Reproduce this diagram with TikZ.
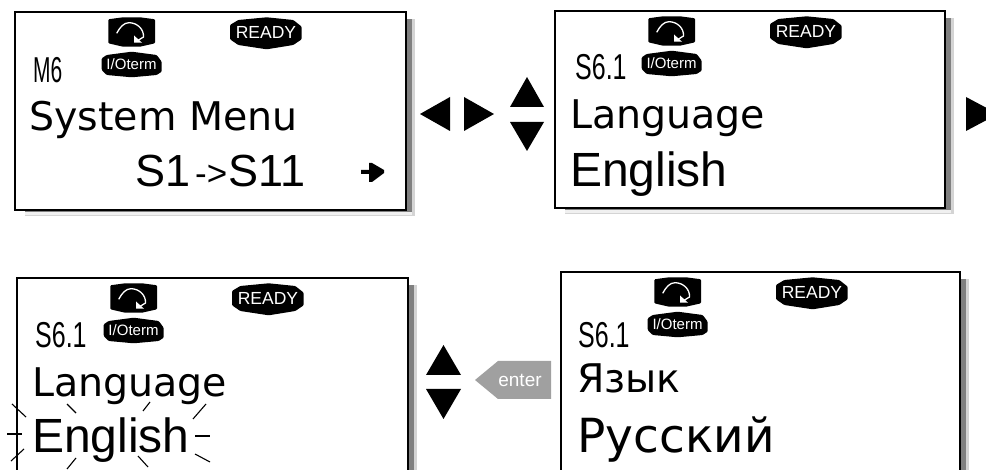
\documentclass[tikz,border=0pt]{standalone}
\usepackage{fontspec}
\setmainfont{Liberation Sans}
\newfontfamily\dejafont{DejaVu Sans}
\newcommand{\fs}[1]{\fontsize{#1}{#1}\selectfont}
\newcommand{\lcdpanel}[5]{
    \fill[lcdlight] (#2+10,#3+7) rectangle (#4+9,#5+6);
    \fill[lcdpale] (#2+10,#5+2) rectangle (#4+6,#5+5);
    \fill[lcddark] (#2+10,#3+7) rectangle (#4+6,#5+2);
    \draw[lcdframe] (#2,#3) rectangle (#4,#5);
    \coordinate (#1) at (#2,#3);
}
\definecolor{lcddark}{HTML}{808080}
\definecolor{lcdlight}{HTML}{D4D4D4}
\definecolor{lcdpale}{HTML}{F0F0F0}
\definecolor{entergray}{HTML}{A0A0A0}
\tikzset{
    lcdframe/.style={draw=black, fill=white, line width=1.3pt},
    bigdeja/.style={anchor=base west, inner sep=0pt, font=\dejafont\fs{39.5}},
    hugedeja/.style={anchor=base west, inner sep=0pt, font=\dejafont\fs{47}},
    bigarial/.style={anchor=base west, inner sep=0pt, font=\fs{48}},
    segtext/.style={anchor=base west, inner sep=0pt, font=\fs{20}},
    badge/.style={white, inner sep=0pt},
    navtri/.style={fill=black},
    blinkray/.style={line width=1.1pt},
    lcdicons/.pic={
        \fill[rounded corners=1pt] (93.3,7.3) -- (108,5.3) -- (125,5.3) -- (140,7.3) -- (140,31.3) -- (125,34.7) -- (108,34.7) -- (93.3,31.3) -- cycle;
        \draw[white, line width=1.3pt] (101.7,21.3) .. controls (105,15) and (109,10.7) .. (114,10.7) .. controls (122,10.7) and (129,17) .. (128.5,25) -- (122,29);
        \fill[white] (119,30.7) -- (119,23.5) -- (127,30.7) -- cycle;
        \fill[rounded corners=1pt] (215,13) -- (223.3,8) -- (251.7,5.3) -- (278.3,8) -- (286.7,14.7) -- (286.7,27.3) -- (278.3,33) -- (251.7,37.3) -- (223.3,33) -- (215,27.3) -- cycle;
        \node[badge, font=\fs{17.5}] (ready) at (251,20.5) {READY};
        \fill[rounded corners=1pt] (86.7,46.3) -- (91.7,43) -- (116.7,39.7) -- (141.7,43) -- (146.7,49.7) -- (146.7,59.7) -- (141.7,63) -- (116.7,65.3) -- (91.7,63) -- (86.7,58) -- cycle;
        \node[badge, font=\fs{15}] (term) at (116.5,52) {I/Oterm};
    }
}
\begin{document}
\begin{tikzpicture}[x=1pt, y=-1pt]
    \path[use as bounding box, clip] (0,0) rectangle (986,470);

    % upper row
    \lcdpanel{one}{15}{12}{406}{210}
    \pic at (one) {lcdicons};
    \node[segtext] (oneseg) at (33,83) {\scalebox{1.05}[1.8]{M6}};
    \node[bigdeja] (onetop) at (29,131) {System Menu};
    \node[bigarial, font=\fs{45}] (onelow) at (135,187) {S1\hspace{5pt}{\fs{35}\raisebox{1pt}{->}}\hspace{1pt}S11};
    \fill (361,170) -- (369,170) -- (369,163) -- (372,163) -- (384,170) -- (384,173) -- (372,182) -- (369,182) -- (369,174) -- (361,174) -- cycle;

    \fill[navtri] (450,97) -- (450,131) -- (420,114) -- cycle;
    \fill[navtri] (464,97) -- (464,131) -- (494,114) -- cycle;
    \fill[navtri] (510,107) -- (544,107) -- (527,77) -- cycle;
    \fill[navtri] (510,122) -- (544,122) -- (527,151) -- cycle;

    \lcdpanel{two}{555}{11}{945}{208}
    \pic at (two) {lcdicons};
    \node[segtext] (twoseg) at (575,80) {\scalebox{1.25}[1.8]{S6.1}};
    \node[bigdeja] (twotop) at (570,129) {Language};
    \node[bigarial] (twolow) at (570,187) {English};

    \fill[navtri] (966,97) -- (966,131) -- (998,114) -- cycle;

    % lower row
    \lcdpanel{three}{17}{278}{408}{490}
    \pic at (three) {lcdicons};
    \node[segtext] (threeseg) at (35,348) {\scalebox{1.25}[1.8]{S6.1}};
    \node[bigdeja] (threetop) at (32,397) {Language};
    \node[bigarial] (threelow) at (32,453) {English};

    \draw[blinkray] (12,404) -- (26,417);
    \draw[blinkray] (67,404) -- (76,413);
    \draw[blinkray] (150,402) -- (143,411);
    \draw[blinkray] (206,404) -- (193,419);
    \draw[blinkray] (7,434) -- (22,434);
    \draw[blinkray] (195,436) -- (210,436);
    \draw[blinkray] (24,449) -- (11,461);
    \draw[blinkray] (76,458) -- (67,469);
    \draw[blinkray] (138,456) -- (148,467);
    \draw[blinkray] (195,454) -- (210,462);

    \fill[navtri] (426,375) -- (461,375) -- (443.5,345) -- cycle;
    \fill[navtri] (426,389) -- (461,389) -- (443.5,419) -- cycle;
    \fill[entergray] (475,380) -- (498,361) -- (551,361) -- (551,399) -- (498,399) -- cycle;
    \node[white, inner sep=0pt, font=\fs{19}] (enter) at (520,380) {enter};

    \lcdpanel{four}{561}{272}{960}{490}
    \begin{scope}[shift={(2,0)}]
        \pic at (four) {lcdicons};
    \end{scope}
    \node[segtext] (fourseg) at (578,348) {\scalebox{1.25}[1.8]{S6.1}};
    \node[bigdeja] (fourtop) at (577,393) {Язык};
    \node[hugedeja] (fourlow) at (577,453) {Русский};
\end{tikzpicture}
\end{document}
